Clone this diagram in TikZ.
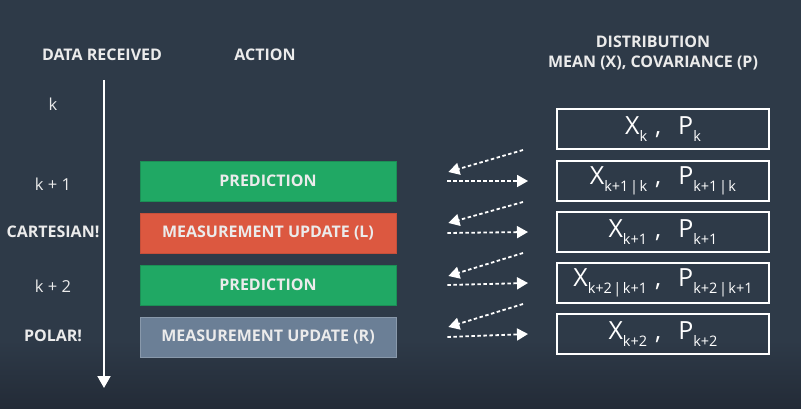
\documentclass[tikz,border=0pt]{standalone}
\usepackage{fontspec}
\setmainfont{Open Sans}
\usepackage{tikz}
\usetikzlibrary{calc, arrows.meta}
\usepackage{xcolor}
\definecolor{bgslate}{RGB}{46, 58, 72}
\definecolor{bgshadow}{RGB}{35, 43, 55}
\definecolor{predgreen}{RGB}{32, 168, 100}
\definecolor{measred}{RGB}{220, 88, 64}
\definecolor{measgray}{RGB}{107, 127, 150}

% mean and covariance pair with subscripts
\newcommand{\meancov}[2]{%
  {\fontsize{25}{27}\selectfont X}\raisebox{-7pt}{\fontsize{14.5}{16}\selectfont #1}%
  \hspace{8pt}{\fontsize{25}{27}\selectfont ,}\hspace{17pt}%
  {\fontsize{25}{27}\selectfont P}\raisebox{-7pt}{\fontsize{14.5}{16}\selectfont #2}}

\begin{document}
\begin{tikzpicture}[x=1pt, y=-1pt, >=Triangle, font=\bfseries\fontsize{16}{20}\selectfont]
  \tikzset{
    lbl/.style={text=white!92!black},
    steplbl/.style={text=white!92!black, font=\mdseries\fontsize{16.5}{20}\selectfont},
    actbox/.style={minimum width=256pt, minimum height=40pt, inner sep=0pt, text=white!92!black, line width=0.8pt},
    distbox/.style={draw=white, line width=2pt, minimum width=212pt, minimum height=40pt, inner sep=0pt, text=white, font=\mdseries},
    flow/.style={white, line width=1.8pt, dash pattern=on 3.5pt off 2.5pt, -{Triangle[length=11pt, width=12pt]}}
  }
  \useasboundingbox (0,0) rectangle (801,409);
  \fill[bgslate] (0,0) rectangle (801,409);
  \shade[top color=bgslate, bottom color=bgshadow] (0,340) rectangle (801,409);

  % headers
  \node[lbl] (hdata) at (102,55) {DATA RECEIVED};
  \node[lbl] (haction) at (265,55) {ACTION};
  \node[lbl, align=center] (hdist) at (653,53) {DISTRIBUTION\\MEAN (X), COVARIANCE (P)};

  % time line
  \coordinate (tstart) at (104,80);
  \coordinate (tend) at (104,388);
  \draw[white, line width=2pt, -{Triangle[length=12pt, width=13pt]}] (tstart) -- (tend);

  \node[steplbl] (lk) at (53,104) {k};
  \node[steplbl] (lk1) at (53,184) {k + 1};
  \node[lbl] (lcart) at (53,232) {CARTESIAN!};
  \node[steplbl] (lk2) at (53,286) {k + 2};
  \node[lbl] (lpolar) at (53,336) {POLAR!};

  % actions
  \node[actbox, fill=predgreen, draw=predgreen!85!black] (pred1) at (268,181) {PREDICTION};
  \node[actbox, fill=measred, draw=measred!90!black] (measL) at (268,233) {MEASUREMENT UPDATE (L)};
  \node[actbox, fill=predgreen, draw=predgreen!85!black] (pred2) at (268,285) {PREDICTION};
  \node[actbox, fill=measgray, draw=measgray!80!white] (measR) at (268,337) {MEASUREMENT UPDATE (R)};

  % distributions
  \node[distbox] (dk) at (663,129) {\meancov{k}{k}};
  \node[distbox] (dk1k) at (663,181) {\meancov{k+1\hspace{1.5pt}|\hspace{1.5pt}k}{k+1\hspace{1.5pt}|\hspace{1.5pt}k}};
  \node[distbox] (dk1) at (663,232) {\meancov{k+1}{k+1}};
  \node[distbox] (dk2k1) at (663,283) {\meancov{k+2\hspace{1.5pt}|\hspace{1.5pt}k+1}{k+2\hspace{1.5pt}|\hspace{1.5pt}k+1}};
  \node[distbox] (dk2) at (663,334) {\meancov{k+2}{k+2}};

  % read state, write state
  \draw[flow] ([xshift=-33pt]dk.south west) -- ([xshift=52pt, yshift=9pt]pred1.east);
  \draw[flow] ([xshift=51pt]pred1.east) -- ([xshift=-28pt]dk1k.west);
  \draw[flow] ([xshift=-33pt]dk1k.south west) -- ([xshift=52pt, yshift=10pt]measL.east);
  \draw[flow] ([xshift=51pt]measL.east) -- ([xshift=-28pt]dk1.west);
  \draw[flow] ([xshift=-33pt]dk1.south west) -- ([xshift=52pt, yshift=9pt]pred2.east);
  \draw[flow] ([xshift=51pt]pred2.east) -- ([xshift=-28pt]dk2k1.west);
  \draw[flow] ([xshift=-33pt]dk2k1.south west) -- ([xshift=52pt, yshift=10pt]measR.east);
  \draw[flow] ([xshift=51pt]measR.east) -- ([xshift=-28pt]dk2.west);
\end{tikzpicture}
\end{document}
